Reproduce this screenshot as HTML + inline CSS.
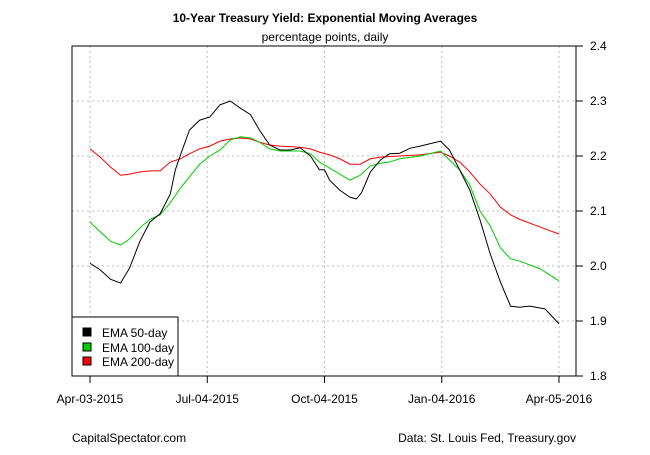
<!DOCTYPE html>
<html><head><meta charset="utf-8"><style>
body{margin:0;background:#fff}
svg text{font-family:"Liberation Sans",Arial,sans-serif}
</style></head><body>
<svg id="chart" width="650" height="450" xmlns="http://www.w3.org/2000/svg">
<rect width="650" height="450" fill="#fff"/>
<text x="325" y="22" text-anchor="middle" font-size="12" font-weight="bold">10-Year Treasury Yield: Exponential Moving Averages</text>
<text x="325" y="41" text-anchor="middle" font-size="12">percentage points, daily</text>
<g id="grid"></g>
<g id="series"></g>
<g id="axes"></g>
<rect x="72" y="46" width="504" height="330" fill="none" stroke="#000"/>
<g>
<rect x="72" y="317" width="106" height="59" fill="#fff" stroke="#000"/>
<rect x="83" y="328" width="8" height="8" fill="#000" stroke="#000"/>
<text x="102" y="337" font-size="12">EMA 50-day</text>
<rect x="83" y="343" width="8" height="8" fill="#00cc00" stroke="#000"/>
<text x="102" y="352" font-size="12">EMA 100-day</text>
<rect x="83" y="357" width="8" height="8" fill="#ff0000" stroke="#000"/>
<text x="102" y="366" font-size="12">EMA 200-day</text>
</g>
<text x="72" y="442" font-size="12">CapitalSpectator.com</text>
<text x="576" y="442" text-anchor="end" font-size="12">Data: St. Louis Fed, Treasury.gov</text>
</svg>
<script>
const yTicks=[1.8,1.9,2.0,2.1,2.2,2.3,2.4];
const yTickLabels=["1.8","1.9","2.0","2.1","2.2","2.3","2.4"];
const xTickDays=[0,92,184,276,368];
const xTickLabels=["Apr-03-2015","Jul-04-2015","Oct-04-2015","Jan-04-2016","Apr-05-2016"];
const days50=[0,8,16,24,31,39,47,55,63,67,71,78,86,94,102,110,118,126,133,141,149,157,165,173,180,184,188,196,204,209,213,220,228,235,243,251,259,275,282,290,298,306,314,322,330,337,345,357,368];
const ema50=[2.005,1.993,1.976,1.969,1.996,2.044,2.08,2.095,2.131,2.175,2.202,2.247,2.265,2.271,2.293,2.30,2.287,2.275,2.247,2.22,2.211,2.211,2.215,2.2,2.175,2.175,2.156,2.138,2.125,2.122,2.133,2.171,2.193,2.204,2.205,2.214,2.218,2.227,2.211,2.175,2.138,2.084,2.022,1.971,1.927,1.925,1.927,1.922,1.895];
const days100=[0,8,16,24,31,39,47,55,63,71,78,86,94,102,110,118,126,133,141,149,157,165,173,180,188,196,204,212,220,228,235,243,259,275,282,290,298,306,314,322,330,337,353,368];
const ema100=[2.08,2.062,2.045,2.038,2.049,2.069,2.085,2.093,2.115,2.142,2.162,2.185,2.2,2.211,2.229,2.235,2.233,2.225,2.213,2.209,2.209,2.209,2.204,2.189,2.178,2.167,2.156,2.165,2.182,2.187,2.189,2.195,2.2,2.209,2.193,2.175,2.147,2.1,2.073,2.033,2.013,2.009,1.995,1.973];
const days200=[0,8,16,24,31,39,47,55,63,71,78,86,94,102,110,118,126,133,141,149,165,173,180,188,196,204,212,220,228,243,259,275,282,290,298,306,314,322,330,337,353,368];
const ema200=[2.213,2.198,2.18,2.165,2.167,2.171,2.173,2.173,2.189,2.195,2.204,2.213,2.218,2.227,2.231,2.233,2.231,2.225,2.22,2.218,2.216,2.213,2.207,2.202,2.195,2.185,2.185,2.195,2.198,2.2,2.202,2.207,2.2,2.189,2.171,2.149,2.131,2.107,2.093,2.085,2.071,2.058];

const NS="http://www.w3.org/2000/svg";
const xS=d=>90+d*(559-90)/368;
const yS=v=>376-(v-1.8)*550;
function mk(tag,attrs,parent){const e=document.createElementNS(NS,tag);for(const k in attrs)e.setAttribute(k,attrs[k]);parent.appendChild(e);return e;}
const grid=document.getElementById('grid'),axes=document.getElementById('axes'),series=document.getElementById('series');
yTicks.forEach((t,i)=>{
  const y=yS(t);
  const g=mk('line',{x1:72,x2:576,y1:y,y2:y,stroke:'#bbb','stroke-dasharray':'2,3'},grid);
  
  
  const tk=mk('line',{x1:576,x2:583,y1:y,y2:y,stroke:'#000'},axes);
  
  
  const tx=mk('text',{x:590,y:y+4,'font-size':12},axes);
  tx.textContent=yTickLabels[i];
  
  
});
xTickDays.forEach((d,i)=>{
  const x=xS(d);
  const g=mk('line',{x1:x,x2:x,y1:46,y2:376,stroke:'#bbb','stroke-dasharray':'2,3'},grid);
  
  
  const tk=mk('line',{x1:x,x2:x,y1:376,y2:383,stroke:'#000'},axes);
  
  
  const tx=mk('text',{x:x,y:403,'font-size':12,'text-anchor':'middle'},axes);
  tx.textContent=xTickLabels[i];
  
  
});
const axl=mk('line',{x1:576,x2:576,y1:46,y2:376,stroke:'#000'},axes);
function line(days,vals,color,name){
  const p=mk('polyline',{points:days.map((d,i)=>xS(d)+','+yS(vals[i])).join(' '),fill:'none',stroke:color,'stroke-width':1},series);
  
  
}
line(days200,ema200,'#ff0000','ema-200-line');
line(days100,ema100,'#00cc00','ema-100-line');
line(days50,ema50,'#000000','ema-50-line');
</script>
</body></html>
